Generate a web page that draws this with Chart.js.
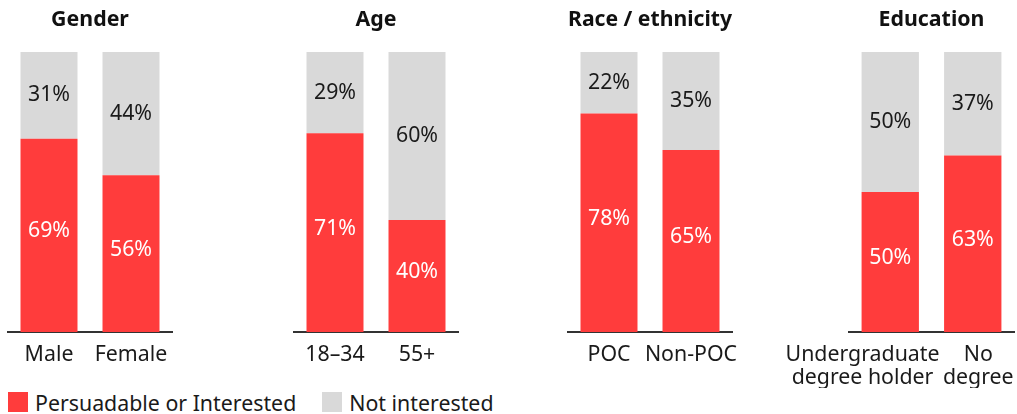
<!DOCTYPE html>
<html>
<head>
<meta charset="utf-8">
<script src="https://cdn.jsdelivr.net/npm/chart.js@4.4.1/dist/chart.umd.min.js"></script>
<style>
  html, body { margin:0; padding:0; width:1017px; height:414px; overflow:hidden; background:#ffffff; font-family:"Noto Sans", sans-serif; }
  .panel { position:absolute; top:0; height:388px; }
  #legend { position:absolute; left:8px; top:392px; display:flex; align-items:center; height:20px; font-size:21.33px; color:#1a1a1a; white-space:nowrap; }
  .item { display:flex; align-items:center; margin-right:26px; }
  .sw { display:inline-block; width:20px; height:20px; margin-right:7px; }
</style>
</head>
<body>
<div id="legend"></div>
<script>
// ---- data ----
const panelTitles = ['Gender', 'Age', 'Race / ethnicity', 'Education'];
const genderCats = ['Male', 'Female'];
const ageCats = ['18–34', '55+'];
const raceCats = ['POC', 'Non-POC'];
const educationCats = [['Undergraduate          ', 'degree holder          '], ['  No', '  degree']];
const seriesNames = ['Persuadable or Interested', 'Not interested'];
const genderPersuadable = [69, 56];
const genderNotInterested = [31, 44];
const agePersuadable = [71, 40];
const ageNotInterested = [29, 60];
const racePersuadable = [78, 65];
const raceNotInterested = [22, 35];
const educationPersuadable = [50, 63];
const educationNotInterested = [50, 37];

// ---- layout / style ----
const panels = [
  { cats: genderCats, a: genderPersuadable, b: genderNotInterested, left: 8, width: 164 },
  { cats: ageCats, a: agePersuadable, b: ageNotInterested, left: 294, width: 164 },
  { cats: raceCats, a: racePersuadable, b: raceNotInterested, left: 568, width: 164 },
  { cats: educationCats, a: educationPersuadable, b: educationNotInterested, left: 849, width: 165 }
];
const colors = ['#ff3c3c', '#d9d9d9'];
const textColor = '#1a1a1a';
const FONT = '"Noto Sans", sans-serif';
const FS = 21.33;
const PAD = 110;

const legend = document.getElementById('legend');
seriesNames.forEach((n, i) => {
  const it = document.createElement('div');
  it.className = 'item';
  const sw = document.createElement('span');
  sw.className = 'sw';
  sw.style.background = colors[i];
  it.appendChild(sw);
  it.appendChild(document.createTextNode(n));
  legend.appendChild(it);
});

const valueLabels = {
  id: 'valueLabels',
  afterDatasetsDraw(chart) {
    const ctx = chart.ctx;
    chart.data.datasets.forEach((ds, i) => {
      const meta = chart.getDatasetMeta(i);
      meta.data.forEach((bar, j) => {
        const v = ds.data[j];
        const cy = (bar.y + bar.base) / 2 + (i === 0 ? -4 : 0);
        ctx.save();
        ctx.font = FS + 'px ' + FONT;
        ctx.fillStyle = i === 0 ? '#ffffff' : textColor;
        ctx.textAlign = 'center';
        ctx.textBaseline = 'middle';
        ctx.fillText(v + '%', bar.x, cy);
        ctx.restore();
      });
    });
  }
};

panels.forEach((p, k) => {
  const div = document.createElement('div');
  div.className = 'panel';
  div.style.left = (p.left - PAD) + 'px';
  div.style.width = (p.width + 2 * PAD) + 'px';
  const cv = document.createElement('canvas');
  div.appendChild(cv);
  document.body.appendChild(div);
  new Chart(cv, {
    type: 'bar',
    data: {
      labels: p.cats,
      datasets: [
        { label: seriesNames[0], data: p.a, backgroundColor: colors[0], borderWidth: 0 },
        { label: seriesNames[1], data: p.b, backgroundColor: colors[1], borderWidth: 0 }
      ]
    },
    options: {
      responsive: true,
      maintainAspectRatio: false,
      animation: false,
      events: [],
      datasets: { bar: { categoryPercentage: 1, barPercentage: 0.695 } },
      layout: { padding: { left: PAD, right: PAD, top: 0, bottom: 0 } },
      plugins: {
        legend: { display: false },
        tooltip: { enabled: false },
        title: {
          display: true,
          text: panelTitles[k],
          color: '#111111',
          font: { family: FONT, size: FS, weight: 'bold', lineHeight: 1.2 },
          padding: { top: 7, bottom: 19.4 }
        }
      },
      scales: {
        x: {
          stacked: true,
          grid: { display: false, drawTicks: false },
          border: { display: true, color: '#333333', width: 2 },
          ticks: {
            color: textColor,
            font: { family: FONT, size: FS, lineHeight: 1.08 },
            padding: 11,
            maxRotation: 0,
            minRotation: 0,
            autoSkip: false
          },
          afterFit: (s) => { s.height = 56; }
        },
        y: {
          stacked: true,
          display: false,
          min: 0,
          max: 100
        }
      }
    },
    plugins: [valueLabels]
  });
});
</script>
</body>
</html>
